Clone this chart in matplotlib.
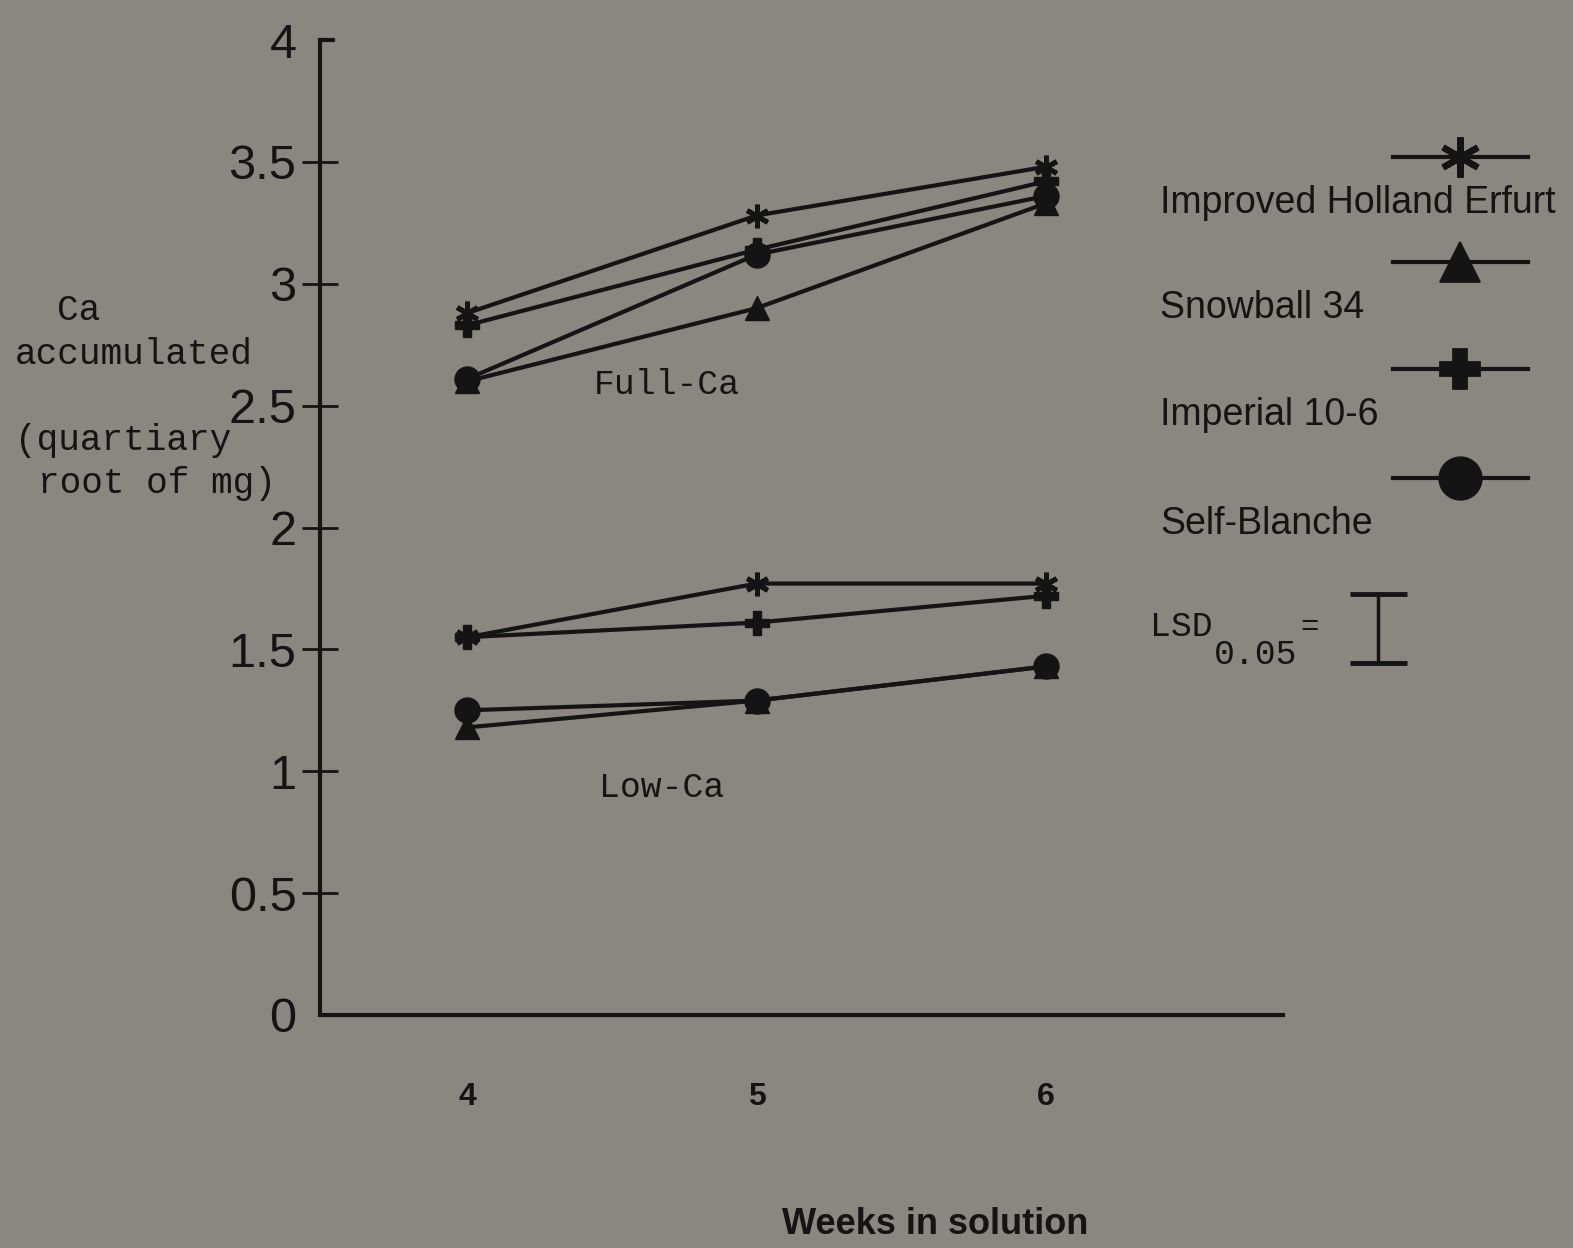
import matplotlib
matplotlib.use('Agg')
import matplotlib.pyplot as plt
from matplotlib.lines import Line2D

# data
weeks = [4, 5, 6]
ihe_full = [2.88, 3.28, 3.48]
snow_full = [2.60, 2.90, 3.33]
imp_full = [2.83, 3.14, 3.42]
sb_full = [2.61, 3.12, 3.36]
ihe_low = [1.55, 1.77, 1.77]
snow_low = [1.18, 1.29, 1.43]
imp_low = [1.55, 1.61, 1.72]
sb_low = [1.25, 1.29, 1.43]
lsd = 0.28

names = ["Improved Holland Erfurt", "Snowball 34", "Imperial 10-6", "Self-Blanche"]
yticks = [0, 0.5, 1, 1.5, 2, 2.5, 3, 3.5, 4]
ytick_labels = ["0", "0.5", "1", "1.5", "2", "2.5", "3", "3.5", "4"]

W, H = 1573, 1248
bg = '#8a8680'
ink = '#141414'
sans = 'Liberation Sans'
mono = 'Liberation Mono'


def fx(x):
    return x / W


def fy(y):
    return 1 - y / H


fig = plt.figure(figsize=(W / 100, H / 100), dpi=100, facecolor=bg)
ax = fig.add_axes([fx(320), fy(1015), (1283 - 320) / W, (1015 - 40) / H])
ax.set_facecolor(bg)
ax.set_xlim(3.49, 6.82)
ax.set_ylim(0, 4)

star = (6, 2, 0)
styles = [(star, 17, 3.5), ('^', 17, 1), ('P', 17, 1), ('o', 18, 1)]
full_sets = [ihe_full, snow_full, imp_full, sb_full]
low_sets = [ihe_low, snow_low, imp_low, sb_low]

for full, low, (mk, ms, mew) in zip(full_sets, low_sets, styles):
    for vals in (full, low):
        ax.plot(weeks, vals, color=ink, lw=3, marker=mk, ms=ms, mfc=ink,
                mec=ink, mew=mew, clip_on=False, solid_capstyle='round')

for s in ['top', 'right']:
    ax.spines[s].set_visible(False)
for s in ['left', 'bottom']:
    ax.spines[s].set_linewidth(3)
    ax.spines[s].set_color(ink)

ax.set_xticks(weeks)
ax.set_xticklabels([str(w) for w in weeks], fontfamily=sans, fontweight='bold',
                   fontsize=23, color=ink)
ax.tick_params(axis='x', length=0, pad=48)

ax.set_yticks(yticks)
ax.set_yticklabels(ytick_labels, fontfamily=sans, fontsize=35, color=ink)
ax.tick_params(axis='y', direction='inout', length=26, width=2, color=ink, pad=4)
yt = ax.yaxis.get_major_ticks()
yt[0].tick1line.set_visible(False)
yt[-1].tick1line.set_visible(False)
# small cap at the top of the y axis
ax.plot([3.49, 3.535], [4, 4], color=ink, lw=3, clip_on=False)

ax.text(4.69, 2.585, "Full-Ca", fontfamily=mono, fontsize=25,
        color=ink, ha='center', va='center')
ax.text(4.67, 0.935, "Low-Ca", fontfamily=mono, fontsize=25, color=ink,
        ha='center', va='center')

# y axis label, monospace as in the typed original
ylab = [("Ca", 57, 311), ("accumulated", 15, 355), ("(quartiary", 15, 440),
        ("root of mg)", 38, 483)]
for txt, x, y in ylab:
    fig.text(fx(x), fy(y), txt, fontfamily=mono, fontsize=26, color=ink,
             ha='left', va='center')

fig.text(fx(935), fy(1225), "Weeks in solution", fontfamily=sans,
         fontweight='bold', fontsize=26, color=ink, ha='center', va='center')

# legend: line with marker above each label
leg_y = [157, 262, 369, 478]
for name, (mk, ms, mew), y in zip(names, styles, leg_y):
    fig.add_artist(Line2D([fx(1393), fx(1528)], [fy(y), fy(y)],
                          transform=fig.transFigure, color=ink, lw=3))
    fig.add_artist(Line2D([fx(1460)], [fy(y)], transform=fig.transFigure,
                          marker=mk, ms=ms * 1.7, mfc=ink, mec=ink,
                          mew=mew * 1.3, color=ink, lw=0))
    fig.text(fx(1160), fy(y + 46), name, fontfamily=sans, fontsize=27,
             color=ink, ha='left', va='center')

# LSD bar
fig.text(fx(1150), fy(627), "LSD", fontfamily=mono, fontsize=25, color=ink,
         ha='left', va='center')
fig.text(fx(1214), fy(655), "0.05", fontfamily=mono, fontsize=25, color=ink,
         ha='left', va='center')
fig.text(fx(1300), fy(627), "=", fontfamily=mono, fontsize=22, color=ink,
         ha='left', va='center')
bx, by = 7.15, 1.586
ax.vlines(bx, by - lsd / 2, by + lsd / 2, color=ink, lw=2.5, clip_on=False)
ax.hlines([by - lsd / 2, by + lsd / 2], bx - 0.1, bx + 0.1, color=ink, lw=3.5,
          clip_on=False)

fig.savefig("out.png", dpi=100, facecolor=bg)
